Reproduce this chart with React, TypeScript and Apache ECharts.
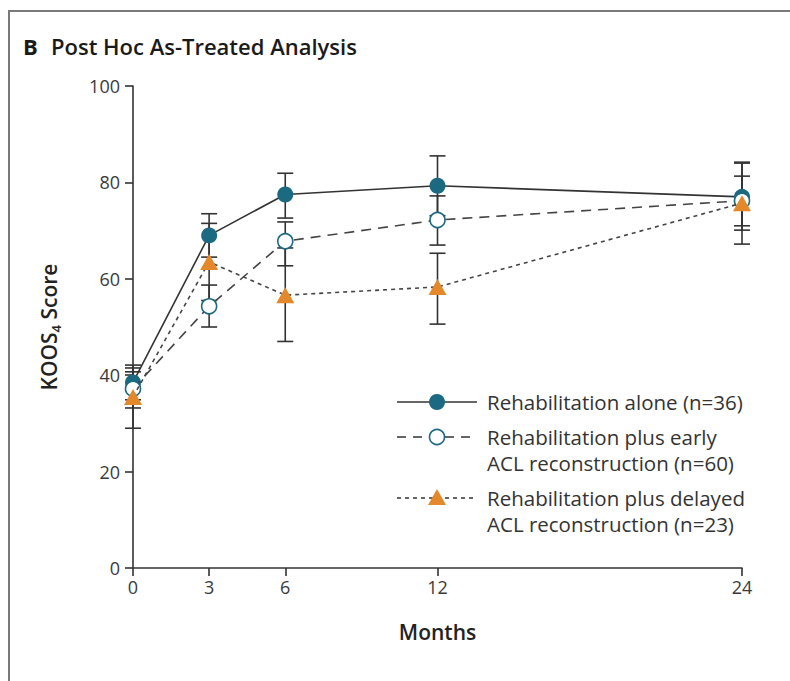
import React, { useEffect, useRef } from "react";
import * as echarts from "echarts";

const months = [0, 3, 6, 12, 24];
const xTickValues = [0, 3, 6, 12, 24];
const yTickInterval = 20;

const aloneMean = [38.5, 69.0, 77.5, 79.3, 77.0];
const aloneLow = [34.9, 64.5, 72.6, 73.1, 70.1];
const aloneHigh = [42.1, 73.5, 81.9, 85.5, 84.0];

const earlyMean = [37.2, 54.3, 67.8, 72.2, 76.2];
const earlyLow = [33.2, 50.0, 62.7, 67.0, 71.0];
const earlyHigh = [41.5, 58.7, 71.8, 77.2, 81.3];

const delayedMean = [35.5, 63.5, 56.6, 58.3, 75.7];
const delayedLow = [29.0, 55.5, 47.0, 50.6, 67.2];
const delayedHigh = [40.7, 71.5, 66.4, 65.3, 84.2];

const legendLabels = [
  ["Rehabilitation alone (n=36)"],
  ["Rehabilitation plus early", "ACL reconstruction (n=60)"],
  ["Rehabilitation plus delayed", "ACL reconstruction (n=23)"],
];

const TEAL = "#1c6982";
const ORANGE = "#e3892b";
const INK = "#333333";
const FONT = "Open Sans";

function pairs(xs: number[], ys: number[]) {
  return xs.map((x, i) => [x, ys[i]]);
}
function triples(xs: number[], lo: number[], hi: number[]) {
  return xs.map((x, i) => [x, lo[i], hi[i]]);
}

function errorSeries(name: string, data: number[][]) {
  return {
    type: "custom",
    name,
    z: 1,
    silent: true,
    data,
    encode: { x: 0, y: [1, 2] },
    renderItem: (params: any, api: any) => {
      const x = api.value(0);
      const lo = api.coord([x, api.value(1)]);
      const hi = api.coord([x, api.value(2)]);
      const w = 8;
      const st = { stroke: INK, lineWidth: 1.6 };
      return {
        type: "group",
        children: [
          { type: "line", shape: { x1: lo[0], y1: lo[1], x2: hi[0], y2: hi[1] }, style: st },
          { type: "line", shape: { x1: lo[0] - w, y1: lo[1], x2: lo[0] + w, y2: lo[1] }, style: st },
          { type: "line", shape: { x1: hi[0] - w, y1: hi[1], x2: hi[0] + w, y2: hi[1] }, style: st },
        ],
      };
    },
  };
}

export default function App() {
  const ref = useRef<HTMLDivElement>(null);
  useEffect(() => {
    if (!ref.current) return;
    const chart = echarts.init(ref.current, null, { renderer: "svg" });

    const lx1 = 397, lx2 = 477, lmark = 437, ltext = 487;
    const rows = [402, 437, 498];
    const lineH = 26;

    const legendGraphics: any[] = [];
    legendGraphics.push({ type: "line", shape: { x1: lx1, y1: rows[0], x2: lx2, y2: rows[0] }, style: { stroke: INK, lineWidth: 1.6 } });
    legendGraphics.push({ type: "circle", shape: { cx: lmark, cy: rows[0], r: 8 }, style: { fill: TEAL } });
    legendGraphics.push({ type: "line", shape: { x1: lx1, y1: rows[1], x2: lx2, y2: rows[1] }, style: { stroke: INK, lineWidth: 1.6, lineDash: [9, 7] } });
    legendGraphics.push({ type: "circle", shape: { cx: lmark, cy: rows[1], r: 7.5 }, style: { fill: "#ffffff", stroke: TEAL, lineWidth: 1.6 } });
    legendGraphics.push({ type: "line", shape: { x1: lx1, y1: rows[2], x2: lx2, y2: rows[2] }, style: { stroke: INK, lineWidth: 1.6, lineDash: [4, 4] } });
    legendGraphics.push({ type: "polygon", shape: { points: [[lmark, rows[2] - 9], [lmark - 9, rows[2] + 7], [lmark + 9, rows[2] + 7]] }, style: { fill: ORANGE } });
    legendLabels.forEach((lines, i) => {
      lines.forEach((t, j) => {
        legendGraphics.push({
          type: "text",
          x: ltext,
          y: rows[i] + j * lineH,
          style: { text: t, fill: INK, font: `20.5px "${FONT}"`, textVerticalAlign: "middle", textAlign: "left" },
        });
      });
    });

    const option: any = {
      animation: false,
      backgroundColor: "#ffffff",
      grid: { left: 133, right: 48, top: 86, bottom: 113, containLabel: false },
      xAxis: {
        type: "value",
        min: 0,
        max: 24,
        name: "Months",
        nameLocation: "middle",
        nameGap: 53,
        nameTextStyle: { fontFamily: FONT, fontSize: 21, fontWeight: 600, color: "#222" },
        axisLine: { lineStyle: { color: INK, width: 1.6 } },
        axisTick: { customValues: xTickValues, length: 8, lineStyle: { color: INK, width: 1.6 } },
        axisLabel: { customValues: xTickValues, fontFamily: FONT, fontSize: 18, color: "#3a3a3a", margin: 10 },
        splitLine: { show: false },
      },
      yAxis: {
        type: "value",
        min: 0,
        max: 100,
        interval: yTickInterval,
        name: "KOOS{s|4} Score",
        nameLocation: "middle",
        nameRotate: 90,
        nameGap: 71,
        nameTextStyle: {
          fontFamily: FONT,
          fontSize: 21,
          fontWeight: 600,
          color: "#222",
          rich: {
            s: { fontFamily: FONT, fontSize: 13, fontWeight: 600, color: "#222", verticalAlign: "bottom", lineHeight: 26 },
          },
        },
        axisLine: { show: true, lineStyle: { color: INK, width: 1.6 } },
        axisTick: { show: true, length: 8, lineStyle: { color: INK, width: 1.6 } },
        axisLabel: { fontFamily: FONT, fontSize: 18, color: "#3a3a3a", margin: 13 },
        splitLine: { show: false },
      },
      series: [
        errorSeries("alone-ci", triples(months, aloneLow, aloneHigh)),
        errorSeries("early-ci", triples(months, earlyLow, earlyHigh)),
        errorSeries("delayed-ci", triples(months, delayedLow, delayedHigh)),
        {
          type: "line",
          name: "Rehabilitation alone (n=36)",
          z: 3,
          data: pairs(months, aloneMean),
          symbol: "circle",
          symbolSize: 16,
          itemStyle: { color: TEAL },
          lineStyle: { color: INK, width: 1.6, type: "solid" },
        },
        {
          type: "line",
          name: "Rehabilitation plus early ACL reconstruction (n=60)",
          z: 4,
          data: pairs(months, earlyMean),
          symbol: "circle",
          symbolSize: 15,
          itemStyle: { color: "#ffffff", borderColor: TEAL, borderWidth: 1.6 },
          lineStyle: { color: "#444", width: 1.6, type: [10, 7] },
        },
        {
          type: "line",
          name: "Rehabilitation plus delayed ACL reconstruction (n=23)",
          z: 5,
          data: pairs(months, delayedMean),
          symbol: "triangle",
          symbolSize: [18, 16],
          itemStyle: { color: ORANGE },
          lineStyle: { color: "#444", width: 1.6, type: [4, 4] },
        },
      ],
      graphic: [
        {
          type: "polyline",
          shape: { points: [[9, 681], [9, 11], [790, 11]] },
          style: { stroke: "#7a7a7a", lineWidth: 2, fill: "none" },
        },
        {
          type: "text",
          x: 23,
          y: 46,
          style: { text: "B", fill: "#1a1a1a", font: `bold 22px "${FONT}"`, textVerticalAlign: "middle" },
        },
        {
          type: "text",
          x: 51,
          y: 46,
          style: { text: "Post Hoc As-Treated Analysis", fill: "#1a1a1a", font: `600 22px "${FONT}"`, textVerticalAlign: "middle" },
        },
        ...legendGraphics,
      ],
    };
    chart.setOption(option);
    return () => chart.dispose();
  }, []);
  return (
    <div
      ref={ref}
      style={{ position: "absolute", left: 0, top: 0, width: 790, height: 681, background: "#fff" }}
    />
  );
}
